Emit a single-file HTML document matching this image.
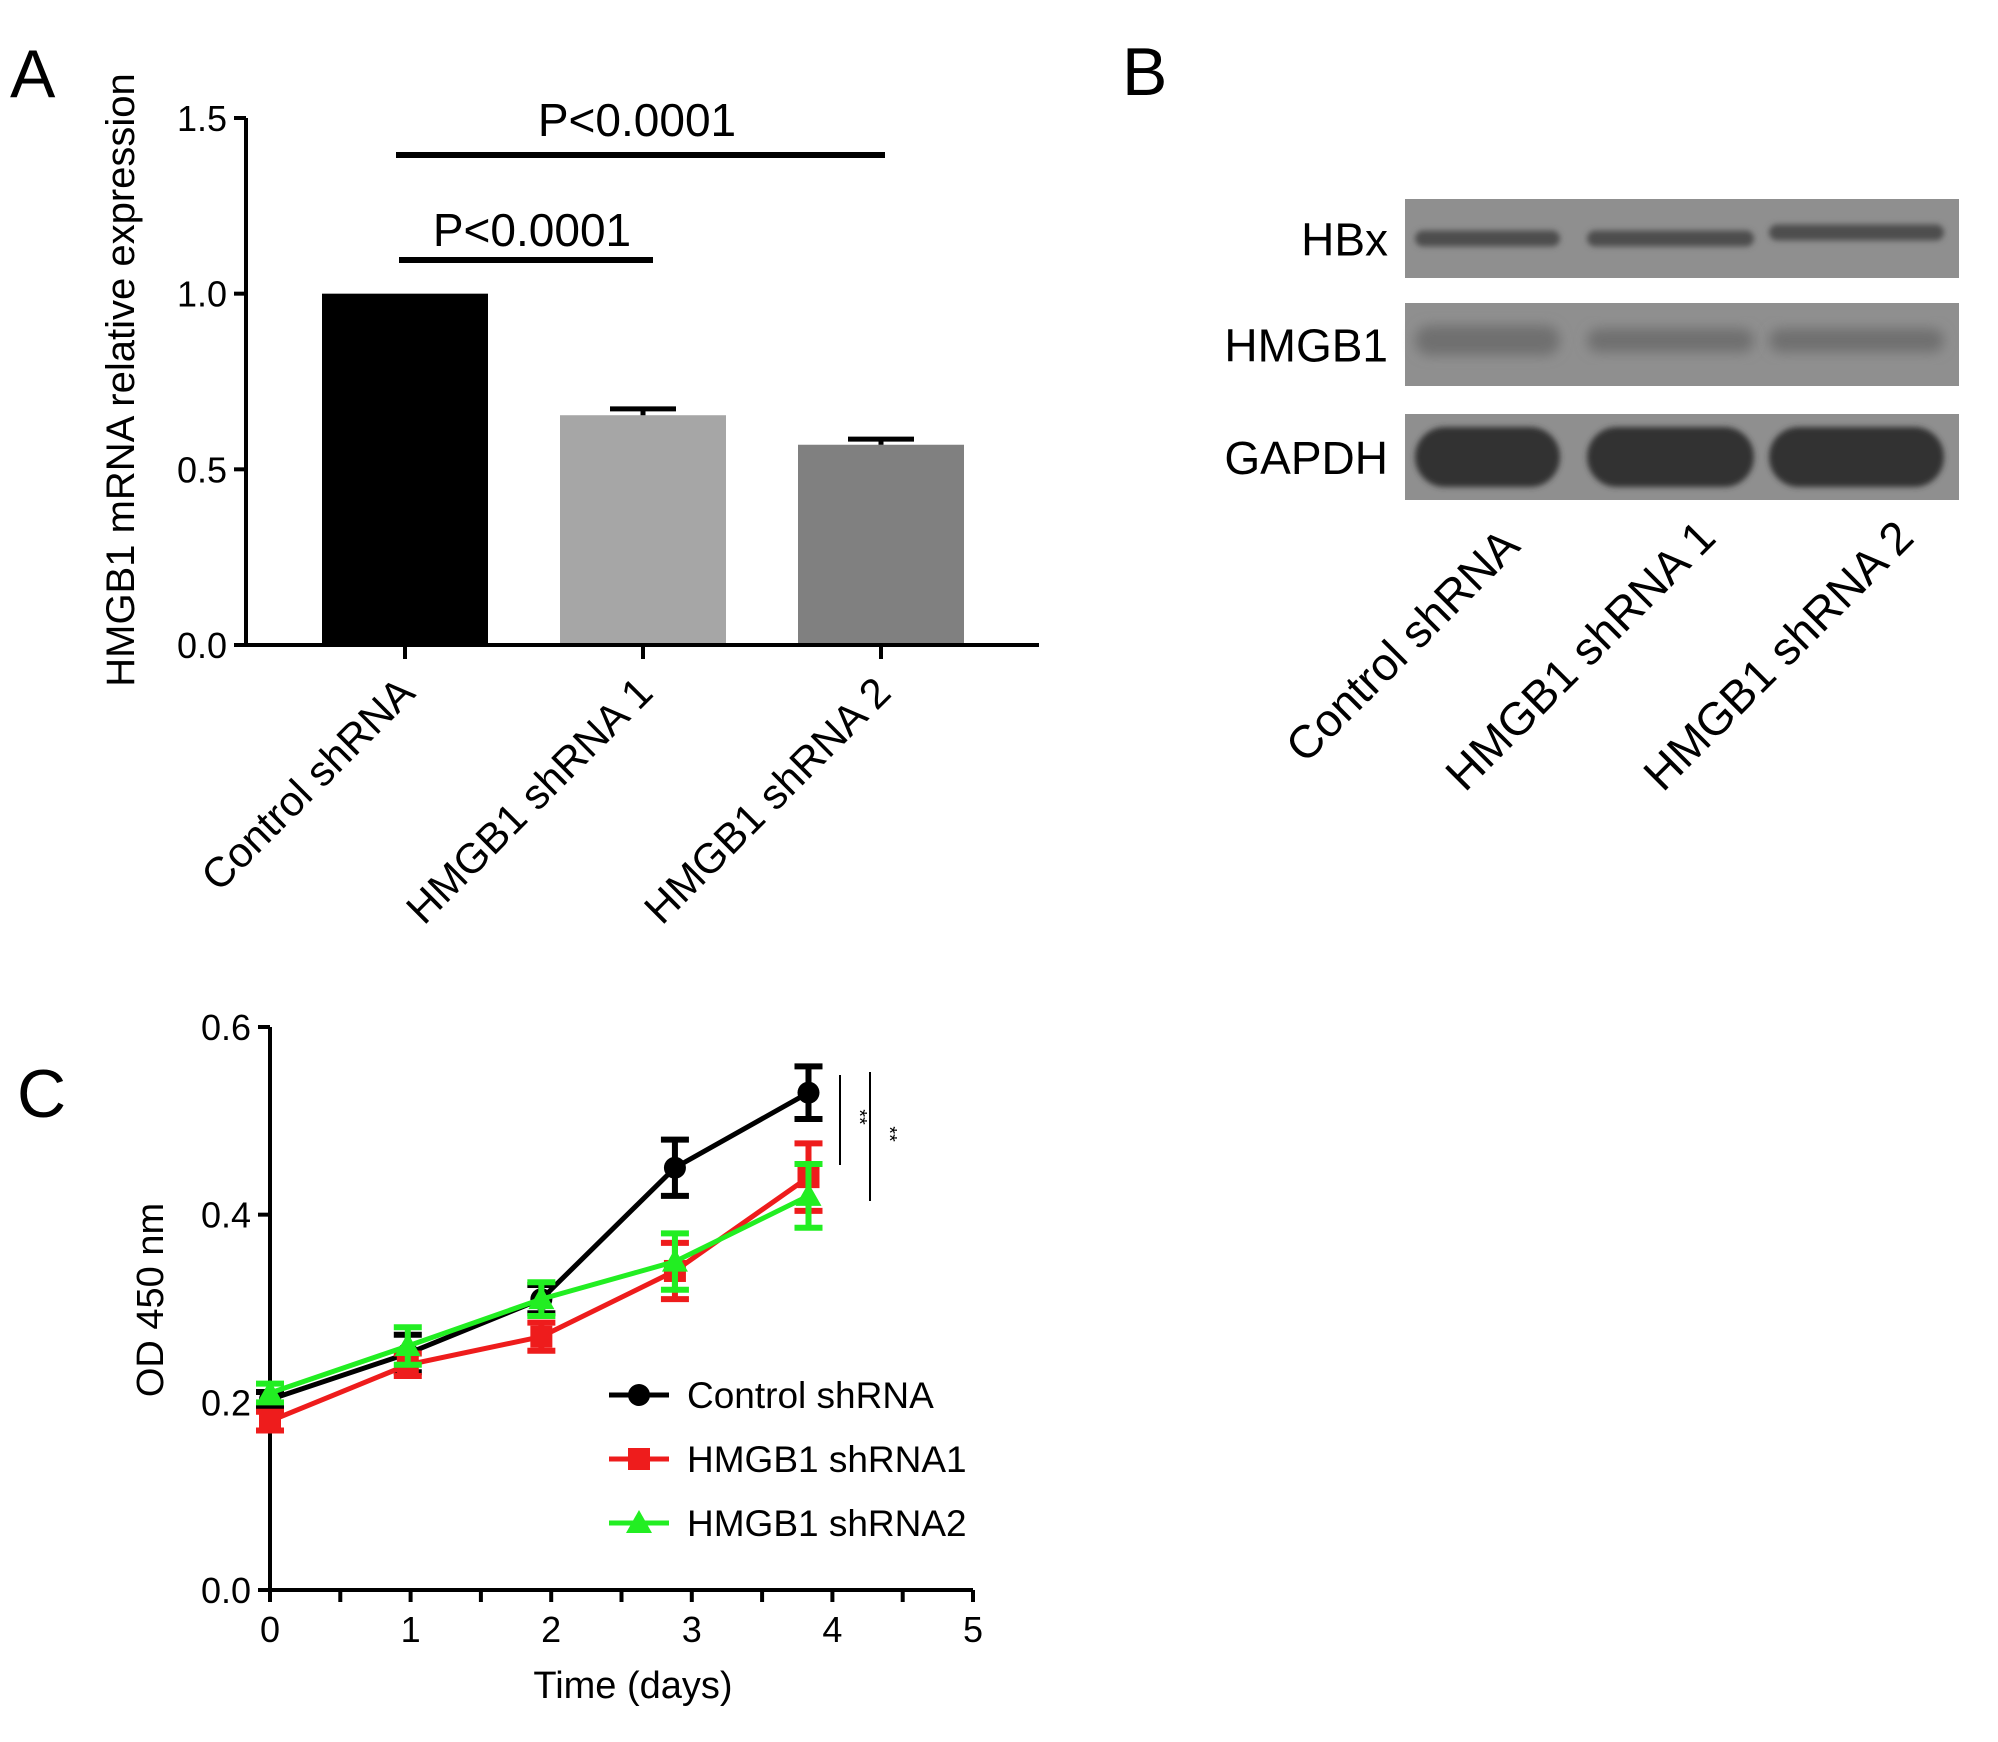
<!DOCTYPE html>
<html><head><meta charset="utf-8"><style>
html,body{margin:0;padding:0;background:#fff;}
svg{display:block;font-family:"Liberation Sans",Arial,sans-serif;}
</style></head><body>
<svg id="fig" width="1998" height="1742" viewBox="0 0 1998 1742">
<defs>
<filter id="blur6" x="-20%" y="-50%" width="140%" height="200%"><feGaussianBlur stdDeviation="6"/></filter>
<filter id="blur3" x="-20%" y="-50%" width="140%" height="200%"><feGaussianBlur stdDeviation="3"/></filter>
</defs>
<text x="10" y="97" font-size="68">A</text>
<text x="1122" y="95" font-size="68">B</text>
<text x="17" y="1117" font-size="68">C</text>
<g id="panelA"></g>
<g id="panelB"></g>
<g id="panelC"></g>
</svg>
<script>
const NS="http://www.w3.org/2000/svg";
function mk(parent,tag,attrs,text){const e=document.createElementNS(NS,tag);for(const k in attrs)e.setAttribute(k,attrs[k]);if(text!==undefined)e.textContent=text;parent.appendChild(e);return e;}

// ---------- Panel A data ----------
const barCategories=["Control shRNA","HMGB1 shRNA 1","HMGB1 shRNA 2"];
const barValues=[1.0,0.654,0.57];
const barErrors=[0,0.018,0.016];
const barColors=["#000000","#a6a6a6","#808080"];
const barYTicks=[0,0.5,1.0,1.5];
const barYTickLabels=["0.0","0.5","1.0","1.5"];

// ---------- Panel C data ----------
const days=[0,0.98,1.93,2.88,3.83];
const xTicks=[0,1,2,3,4,5];
const yTicksC=[0,0.2,0.4,0.6];
const yTickLabelsC=["0.0","0.2","0.4","0.6"];
const seriesNames=["Control shRNA","HMGB1 shRNA1","HMGB1 shRNA2"];
const controlVals=[0.203,0.252,0.31,0.45,0.53];
const controlErr=[0.008,0.02,0.015,0.03,0.028];
const sh1Vals=[0.18,0.24,0.27,0.34,0.44];
const sh1Err=[0.01,0.012,0.015,0.03,0.036];
const sh2Vals=[0.21,0.26,0.31,0.35,0.42];
const sh2Err=[0.01,0.02,0.018,0.03,0.034];

// ===== Panel A =====
(function(){
  const g=document.getElementById('panelA');
  const x0=246,x1=1039,yb=645,yt=118,ymax=1.5;
  const y=v=>yb-(v/ymax)*(yb-yt);
  const bx=i=>405+i*238;
  const bw=166;
  barValues.forEach((v,i)=>{
    const r=mk(g,'rect',{x:bx(i)-bw/2,y:y(v),width:bw,height:yb-y(v),fill:barColors[i]});
    
    
    if(barErrors[i]>0){
      const cx=bx(i);
      const e=mk(g,'path',{d:`M${cx},${y(v)} V${y(v+barErrors[i])} M${cx-33},${y(v+barErrors[i])} H${cx+33}`,stroke:'#000','stroke-width':5,fill:'none'});
      
      
    }
    const t=mk(g,'line',{x1:bx(i),x2:bx(i),y1:yb,y2:yb+14,stroke:'#000','stroke-width':4});
    
    
    const ax_=bx(i)+12, ay_=yb+50;
    const lab=mk(g,'text',{x:ax_,y:ay_,'font-size':42,'text-anchor':'end',transform:`rotate(-45 ${ax_} ${ay_})`},barCategories[i]);
    
    
  });
  const ax=mk(g,'path',{d:`M${x0},${yt} V${yb} H${x1}`,stroke:'#000','stroke-width':4,fill:'none'});
  
  
  barYTicks.forEach((v,i)=>{
    const t=mk(g,'line',{x1:x0-12,x2:x0,y1:y(v),y2:y(v),stroke:'#000','stroke-width':4});
    
    
    const l=mk(g,'text',{x:x0-19,y:y(v)+13,'font-size':36,'text-anchor':'end'},barYTickLabels[i]);
    
    
  });
  const yt2=mk(g,'text',{x:134,y:380,'font-size':40,'text-anchor':'middle',transform:'rotate(-90 134 380)'},'HMGB1 mRNA relative expression');
  
  
  const s1=mk(g,'line',{x1:396,x2:885,y1:155,y2:155,stroke:'#000','stroke-width':6});
  
  
  const p1=mk(g,'text',{x:637,y:136,'font-size':46,'text-anchor':'middle'},'P<0.0001');
  
  
  const s2=mk(g,'line',{x1:399,x2:653,y1:260,y2:260,stroke:'#000','stroke-width':6});
  
  
  const p2=mk(g,'text',{x:532,y:246,'font-size':46,'text-anchor':'middle'},'P<0.0001');
  
  
})();

// ===== Panel B =====
(function(){
  const g=document.getElementById('panelB');
  const X0=1405,W=554;
  const rows=[{n:'HBx',y:199,h:79,band:'#4e4e4e',by:0.5,bh:16,f:'blur3'},
              {n:'HMGB1',y:303,h:83,band:'#707070',by:0.45,bh:30,f:'blur6'},
              {n:'GAPDH',y:414,h:86,band:'#333333',by:0.5,bh:60,f:'blur3'}];
  rows.forEach(r=>{
    const rr=mk(g,'rect',{x:X0,y:r.y,width:W,height:r.h,fill:'#8f8f8f'});
    
    
    [[1409,1566],[1581,1760],[1763,1950]].forEach(([a,b],j)=>{
      let bh=r.bh; if(r.n==='HMGB1'&&j>0) bh=24;
      const band=mk(g,'rect',{x:a+6,y:r.y+r.h*r.by-bh/2+(r.n==='HBx'&&j===2?-6:0),width:b-a-12,height:bh,rx:bh/2,fill:r.band,filter:'url(#'+r.f+')'});
      
      
    });
    const t=mk(g,'text',{x:1388,y:r.y+r.h/2+17,'font-size':46,'text-anchor':'end'},r.n);
    
    
  });
  const ends=[[1522,518],[1718,510],[1916,510]];
  barCategories.forEach((c,i)=>{
    const t=mk(g,'text',{x:ends[i][0],y:ends[i][1]+30,'font-size':46,'text-anchor':'end',transform:`rotate(-45 ${ends[i][0]} ${ends[i][1]+30})`},c);
    
    
  });
})();

// ===== Panel C =====
(function(){
  const g=document.getElementById('panelC');
  const x0=270,x5=973,yb=1590,yt=1027,ymax=0.6;
  const X=d=>x0+d/5*(x5-x0);
  const Y=v=>yb-v/ymax*(yb-yt);
  const ax=mk(g,'path',{d:`M${x0},${yt} V${yb} H${x5}`,stroke:'#000','stroke-width':4,fill:'none'});
  
  
  for(let d=0;d<=5;d+=0.5){
    const t=mk(g,'line',{x1:X(d),x2:X(d),y1:yb,y2:yb+12,stroke:'#000','stroke-width':4});
    
    
  }
  xTicks.forEach(d=>{
    const l=mk(g,'text',{x:X(d),y:yb+52,'font-size':36,'text-anchor':'middle'},String(d));
    
    
  });
  yTicksC.forEach((v,i)=>{
    const t=mk(g,'line',{x1:x0-12,x2:x0,y1:Y(v),y2:Y(v),stroke:'#000','stroke-width':4});
    
    
    const l=mk(g,'text',{x:x0-19,y:Y(v)+13,'font-size':36,'text-anchor':'end'},yTickLabelsC[i]);
    
    
  });
  const xt=mk(g,'text',{x:633,y:1698,'font-size':38,'text-anchor':'middle'},'Time (days)');
  
  
  const yt2=mk(g,'text',{x:163,y:1300,'font-size':38,'text-anchor':'middle',transform:'rotate(-90 163 1300)'},'OD 450 nm');
  
  

  const series=[{v:controlVals,e:controlErr,c:'#000000',m:'circle'},
                {v:sh1Vals,e:sh1Err,c:'#ee1c1c',m:'square'},
                {v:sh2Vals,e:sh2Err,c:'#22ee22',m:'triangle'}];
  function marker(p,m,cx,cy,c){
    if(m==='circle') return mk(p,'circle',{cx:cx,cy:cy,r:11,fill:c});
    if(m==='square') return mk(p,'rect',{x:cx-11,y:cy-11,width:22,height:22,fill:c});
    return mk(p,'path',{d:`M${cx},${cy-13} L${cx+13},${cy+10} L${cx-13},${cy+10} Z`,fill:c});
  }
  series.forEach((s,k)=>{
    const sg=mk(g,'g',{});
    
    
    const pts=s.v.map((v,i)=>X(days[i])+','+Y(v)).join(' ');
    const pl=mk(sg,'polyline',{points:pts,fill:'none',stroke:s.c,'stroke-width':5});
    
    
    s.v.forEach((v,i)=>{
      const cx=X(days[i]);
      const eb=mk(sg,'path',{d:`M${cx},${Y(v-s.e[i])} V${Y(v+s.e[i])} M${cx-14},${Y(v-s.e[i])} H${cx+14} M${cx-14},${Y(v+s.e[i])} H${cx+14}`,stroke:s.c,'stroke-width':6,fill:'none'});
      
      
      const mm=marker(sg,s.m,cx,Y(v),s.c);
      
      
    });
  });
  // significance
  [[840,1075,1165,853,1117],[870,1072,1201,883,1134]].forEach((a,i)=>{
    const l=mk(g,'line',{x1:a[0],x2:a[0],y1:a[1],y2:a[2],stroke:'#000','stroke-width':2});
    
    
    const t=mk(g,'text',{x:a[3],y:a[4],'font-size':20,'text-anchor':'middle',transform:`rotate(90 ${a[3]} ${a[4]})`},'**');
    
    
  });
  // legend
  const lg=mk(g,'g',{});
  
  
  const ly=[1395,1459,1523];
  series.forEach((s,k)=>{
    const e=mk(lg,'g',{});
    
    
    mk(e,'line',{x1:609,x2:669,y1:ly[k],y2:ly[k],stroke:s.c,'stroke-width':5});
    marker(e,s.m,639,ly[k],s.c);
    mk(e,'text',{x:687,y:ly[k]+13,'font-size':37},seriesNames[k]);
  });
})();
</script>
</body></html>
